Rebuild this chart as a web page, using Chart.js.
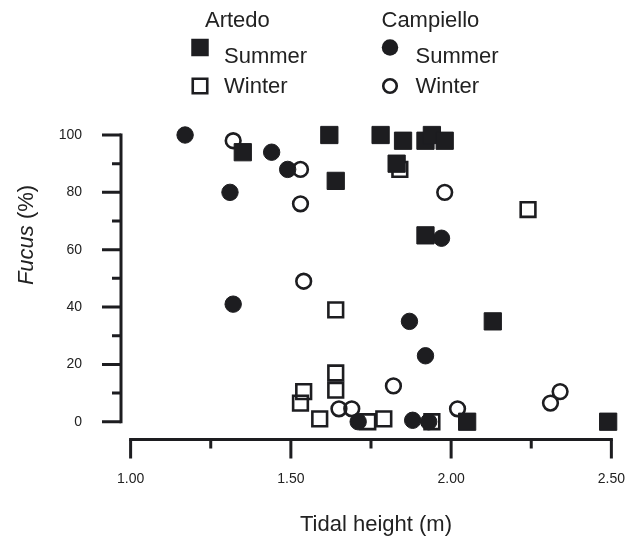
<!DOCTYPE html>
<html>
<head>
<meta charset="utf-8">
<title>Fucus cover by tidal height</title>
<script src="https://cdn.jsdelivr.net/npm/chart.js"></script>
<style>
  html, body { margin: 0; padding: 0; background: #fff; }
  #wrap { width: 630px; height: 538px; }
</style>
</head>
<body>
<div id="wrap"><canvas id="fucusChart" width="630" height="538"></canvas></div>
<script>
// Fucus cover (%) against tidal height (m), two sites, two seasons
var siteNames = ["Artedo", "Campiello"];
var seasonNames = ["Summer", "Winter"];

var artedoSummerX = [1.35, 1.62, 1.64, 1.78, 1.83, 1.85, 1.92, 1.94, 1.98, 1.92, 2.13, 2.05, 2.49];
var artedoSummerY = [94, 100, 84, 100, 90, 98, 98, 100, 98, 65, 35, 0, 0];

var artedoWinterX = [1.84, 2.24, 1.64, 1.64, 1.64, 1.54, 1.53, 1.59, 1.74, 1.79, 1.94];
var artedoWinterY = [88, 74, 39, 17, 11, 10.5, 6.5, 1, 0, 1, 0];

var campielloSummerX = [1.17, 1.44, 1.49, 1.31, 1.32, 1.97, 1.87, 1.92, 1.71, 1.88, 1.93];
var campielloSummerY = [100, 94, 88, 80, 41, 64, 35, 23, 0, 0.5, 0];

var campielloWinterX = [1.32, 1.53, 1.53, 1.54, 1.98, 1.82, 1.65, 1.69, 2.02, 2.31, 2.34];
var campielloWinterY = [98, 88, 76, 49, 80, 12.5, 4.5, 4.5, 4.5, 6.5, 10.5];

var xTickValues = [1.0, 1.5, 2.0, 2.5];
var xMinorTicks = [1.25, 1.75, 2.25];
var yTickValues = [0, 20, 40, 60, 80, 100];
var yMinorTicks = [10, 30, 50, 70, 90];

var ink = "#1d1d20";
var textInk = "#222222";
var fontFamily = "'Liberation Sans', Arial, Helvetica, sans-serif";

function pairs(xs, ys) {
  return xs.map(function (x, i) { return { x: x, y: ys[i] }; });
}

// axes drawn base-graphics style: detached, with long and short ticks
var baseAxes = {
  id: "baseAxes",
  beforeDatasetsDraw: function (chart) {
    var ctx = chart.ctx, xs = chart.scales.x, ys = chart.scales.y;
    var ax = chart.chartArea.left, ay = chart.chartArea.bottom;
    ctx.save();
    ctx.strokeStyle = ink;
    ctx.lineWidth = 3;
    ctx.lineCap = "square";
    ctx.beginPath();
    ctx.moveTo(ax, ys.getPixelForValue(yTickValues[0]));
    ctx.lineTo(ax, ys.getPixelForValue(yTickValues[yTickValues.length - 1]));
    ctx.moveTo(xs.getPixelForValue(xTickValues[0]), ay);
    ctx.lineTo(xs.getPixelForValue(xTickValues[xTickValues.length - 1]), ay);
    ctx.stroke();

    ctx.lineCap = "butt";
    ctx.beginPath();
    yTickValues.forEach(function (v) {
      var p = ys.getPixelForValue(v);
      ctx.moveTo(ax, p); ctx.lineTo(ax - 19, p);
    });
    yMinorTicks.forEach(function (v) {
      var p = ys.getPixelForValue(v);
      ctx.moveTo(ax, p); ctx.lineTo(ax - 9, p);
    });
    xTickValues.forEach(function (v) {
      var p = xs.getPixelForValue(v);
      ctx.moveTo(p, ay); ctx.lineTo(p, ay + 19);
    });
    xMinorTicks.forEach(function (v) {
      var p = xs.getPixelForValue(v);
      ctx.moveTo(p, ay); ctx.lineTo(p, ay + 9);
    });
    ctx.stroke();
    ctx.restore();
  }
};

// axis titles; the genus name is set in italics
var axisTitles = {
  id: "axisTitles",
  afterDraw: function (chart) {
    var ctx = chart.ctx;
    ctx.save();
    ctx.fillStyle = textInk;
    ctx.font = "22px " + fontFamily;
    ctx.textAlign = "center";
    ctx.textBaseline = "alphabetic";
    ctx.fillText("Tidal height (m)", 376, 530.5);

    var genus = "Fucus", rest = " (%)";
    ctx.font = "italic 22px " + fontFamily;
    var w1 = ctx.measureText(genus).width;
    ctx.font = "22px " + fontFamily;
    var w2 = ctx.measureText(rest).width;
    ctx.translate(33, 235);
    ctx.rotate(-Math.PI / 2);
    ctx.textAlign = "left";
    var start = -(w1 + w2) / 2;
    ctx.font = "italic 22px " + fontFamily;
    ctx.fillText(genus, start, 0);
    ctx.font = "22px " + fontFamily;
    ctx.fillText(rest, start + w1, 0);
    ctx.restore();
  }
};

function drawMarker(ctx, shape, filled, x, y, size) {
  ctx.beginPath();
  if (shape === "rect") {
    ctx.rect(x - size / 2, y - size / 2, size, size);
  } else {
    ctx.arc(x, y, size / 2, 0, Math.PI * 2);
  }
  if (filled) {
    ctx.fillStyle = ink;
    ctx.fill();
  } else {
    ctx.lineWidth = 2.6;
    ctx.strokeStyle = ink;
    ctx.stroke();
  }
}

// two-column key: site heading, then one row per season
var siteKey = {
  id: "siteKey",
  afterDraw: function (chart) {
    var ctx = chart.ctx;
    var columns = [
      { headX: 205, markX: 200, textX: 224, shape: "rect", sizes: [17.5, 14.5] },
      { headX: 381.5, markX: 390, textX: 415.5, shape: "circle", sizes: [16.5, 13.5] }
    ];
    var rowMarkY = [47.5, 86];
    var rowTextY = [63, 93];
    ctx.save();
    ctx.font = "22px " + fontFamily;
    ctx.textAlign = "left";
    ctx.textBaseline = "alphabetic";
    columns.forEach(function (col, c) {
      ctx.fillStyle = textInk;
      ctx.fillText(siteNames[c], col.headX, 27);
      seasonNames.forEach(function (season, r) {
        drawMarker(ctx, col.shape, r === 0, col.markX, rowMarkY[r], col.sizes[r]);
        ctx.fillStyle = textInk;
        ctx.fillText(season, col.textX, rowTextY[r]);
      });
    });
    ctx.restore();
  }
};

// keep the plot area fixed: no extra room reserved for edge labels
function clearEdgePadding(scale) {
  scale.paddingLeft = 0;
  scale.paddingRight = 0;
  scale.paddingTop = 0;
  scale.paddingBottom = 0;
}

var tickFont = { family: fontFamily, size: 14 };

new Chart(document.getElementById("fucusChart"), {
  type: "scatter",
  data: {
    datasets: [
      {
        label: siteNames[0] + " " + seasonNames[0],
        data: pairs(artedoSummerX, artedoSummerY),
        pointStyle: "rect",
        pointRadius: 12.2,
        pointHoverRadius: 12.2,
        backgroundColor: ink,
        borderColor: ink,
        borderWidth: 1
      },
      {
        label: siteNames[1] + " " + seasonNames[0],
        data: pairs(campielloSummerX, campielloSummerY),
        pointStyle: "circle",
        pointRadius: 8.2,
        pointHoverRadius: 8.2,
        backgroundColor: ink,
        borderColor: ink,
        borderWidth: 1
      },
      {
        label: siteNames[0] + " " + seasonNames[1],
        data: pairs(artedoWinterX, artedoWinterY),
        pointStyle: "rect",
        pointRadius: 10.4,
        pointHoverRadius: 10.4,
        backgroundColor: "rgba(0,0,0,0)",
        borderColor: ink,
        borderWidth: 2.6
      },
      {
        label: siteNames[1] + " " + seasonNames[1],
        data: pairs(campielloWinterX, campielloWinterY),
        pointStyle: "circle",
        pointRadius: 7.35,
        pointHoverRadius: 7.35,
        backgroundColor: "rgba(0,0,0,0)",
        borderColor: ink,
        borderWidth: 2.6
      }
    ]
  },
  options: {
    responsive: false,
    animation: false,
    layout: {
      autoPadding: false,
      padding: { top: 117.8, right: 2.6, left: 0, bottom: 0 }
    },
    plugins: {
      legend: { display: false },
      tooltip: { enabled: false }
    },
    scales: {
      x: {
        type: "linear",
        min: 0.97,
        max: 2.55,
        grid: { display: false, drawTicks: false },
        border: { display: false },
        afterBuildTicks: function (scale) {
          scale.ticks = xTickValues.map(function (v) { return { value: v }; });
        },
        afterFit: function (scale) {
          scale.height = 98.5;
          clearEdgePadding(scale);
        },
        ticks: {
          padding: 31,
          color: textInk,
          font: tickFont,
          maxRotation: 0,
          callback: function (v) { return Number(v).toFixed(2); }
        }
      },
      y: {
        type: "linear",
        min: -6.2,
        max: 106,
        grid: { display: false, drawTicks: false },
        border: { display: false },
        afterBuildTicks: function (scale) {
          scale.ticks = yTickValues.map(function (v) { return { value: v }; });
        },
        afterFit: function (scale) {
          scale.width = 121;
          clearEdgePadding(scale);
        },
        ticks: {
          padding: 39,
          color: textInk,
          font: tickFont,
          callback: function (v) { return String(v); }
        }
      }
    }
  },
  plugins: [baseAxes, axisTitles, siteKey]
});
</script>
</body>
</html>
